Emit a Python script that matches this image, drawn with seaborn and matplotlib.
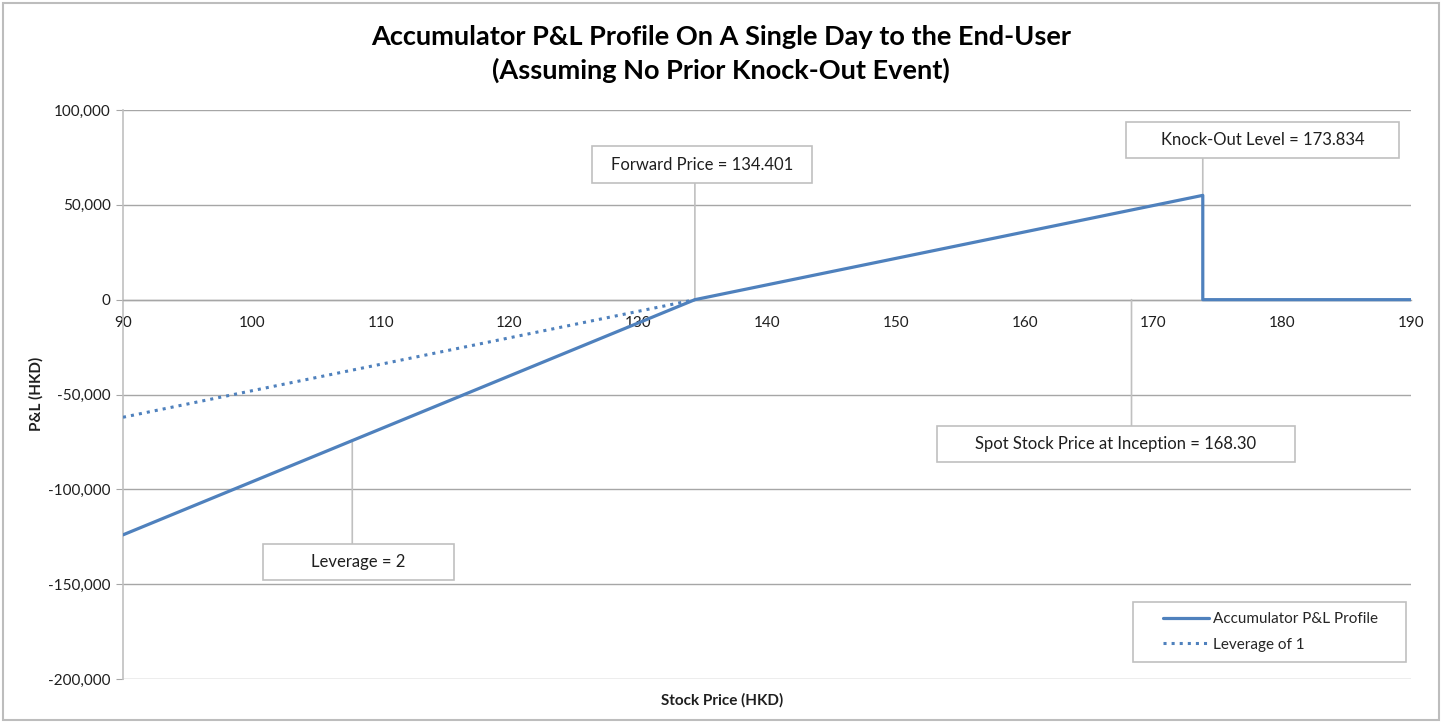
"""
Accumulator P&L profile on a single day, Excel-style chart with callout boxes.
"""

import matplotlib.pyplot as plt
import pandas as pd
import seaborn as sns
from matplotlib.patches import Rectangle
from matplotlib.ticker import FuncFormatter

# --- Data ---
accum_price = [90, 134.401, 173.834, 173.834, 190]
accum_pnl = [-124000, 0, 55000, 0, 0]

lev1_price = [90, 134.401]
lev1_pnl = [-62000, 0]

x_ticks = [90, 100, 110, 120, 130, 140, 150, 160, 170, 180, 190]
y_ticks = [-200000, -150000, -100000, -50000, 0, 50000, 100000]

# callouts: text, anchor on chart (x, y), box in image pixels (x0, top, x1, bottom), leader edge
callouts = [
    ("Forward Price = 134.401", (134.401, 0), (592, 146, 812, 183), "bottom"),
    ("Knock-Out Level = 173.834", (173.834, 55000), (1126, 122, 1399, 158), "bottom"),
    ("Spot Stock Price at Inception = 168.30", (168.30, 0), (937, 426, 1295, 462), "top"),
    ("Leverage = 2", (107.8, -74000), (263, 544, 454, 580), "top"),
]

BLUE = "#4F81BD"
GRID = "#A6A6A6"
LIGHT = "#C0C0C0"
TEXT = "#1F1F1F"
W, H = 1442, 723


def fig_box(x0, top, x1, bottom, **kw):
    """Rectangle given in image pixel coordinates (origin top-left)."""
    return Rectangle((x0 / W, (H - bottom) / H), (x1 - x0) / W, (bottom - top) / H,
                     transform=fig.transFigure, **kw)


sns.set_style("white")
plt.rcParams["font.family"] = ["Lato", "DejaVu Sans"]

fig = plt.figure(figsize=(W / 100, H / 100), dpi=100)
ax = fig.add_axes([123 / W, (H - 679) / H, (1411 - 123) / W, (679 - 110) / H])

df_acc = pd.DataFrame({"price": accum_price, "pnl": accum_pnl})
df_lev = pd.DataFrame({"price": lev1_price, "pnl": lev1_pnl})

sns.lineplot(data=df_acc, x="price", y="pnl", ax=ax, color=BLUE, lw=2.3,
             sort=False, estimator=None, label="Accumulator P&L Profile", zorder=4)
sns.lineplot(data=df_lev, x="price", y="pnl", ax=ax, color=BLUE, lw=2.2,
             linestyle=":", sort=False, estimator=None, label="Leverage of 1", zorder=4)

ax.set_xlim(90, 190)
ax.set_ylim(-200000, 100000)
ax.set_xticks(x_ticks)
ax.set_yticks(y_ticks)
ax.yaxis.set_major_formatter(FuncFormatter(lambda v, _: f"{v:,.0f}"))
ax.set_xlabel("")
ax.set_ylabel("")

ax.grid(axis="y", color=GRID, lw=1)
ax.grid(axis="x", visible=False)
ax.set_axisbelow(True)

for side in ["top", "right"]:
    ax.spines[side].set_visible(False)
ax.spines["left"].set_color(LIGHT)
ax.spines["left"].set_linewidth(1.2)
ax.spines["bottom"].set_position(("data", 0))
ax.spines["bottom"].set_color(GRID)
ax.spines["bottom"].set_linewidth(1)

ax.tick_params(axis="x", direction="out", length=4, color=GRID, labelsize=11,
               labelcolor=TEXT, pad=8)
ax.tick_params(axis="y", direction="out", length=5, color=GRID, labelsize=11,
               labelcolor=TEXT, pad=4, left=True)

# legend: frame drawn separately to match the Excel box
ax.add_patch(fig_box(1133, 602, 1406, 662, facecolor="white", edgecolor=LIGHT,
                     lw=1.2, zorder=5, clip_on=False))
leg = ax.legend(loc="center left", bbox_to_anchor=((1163 - 123) / 1288, (679 - 632) / 569),
                fontsize=11, frameon=False, handlelength=3.0, borderpad=0,
                borderaxespad=0, labelspacing=0.75, handletextpad=0.25)
leg.set_zorder(8)

# callout boxes with leader lines
for text, (ax_x, ax_y), (x0, top, x1, bottom), edge in callouts:
    fig.patches.append(fig_box(x0, top, x1, bottom, facecolor="white",
                               edgecolor=LIGHT, lw=1.2, zorder=6))
    fig.text((x0 + x1) / 2 / W, (H - (top + bottom) / 2) / H, text, ha="center",
             va="center", fontsize=12, color=TEXT, zorder=7)
    edge_y = bottom if edge == "bottom" else top
    ax.annotate("", xy=(ax_x, ax_y), xytext=(ax_x, H - edge_y),
                textcoords=("data", "figure pixels"),
                arrowprops=dict(arrowstyle="-", color=LIGHT, lw=1.2,
                                shrinkA=0, shrinkB=0), zorder=3)

fig.text(0.5, (H - 54) / H,
         "Accumulator P&L Profile On A Single Day to the End-User\n"
         "(Assuming No Prior Knock-Out Event)",
         ha="center", va="center", fontsize=19.5, fontweight="bold",
         linespacing=1.4, color="black")
fig.text(722 / W, (H - 700) / H, "Stock Price (HKD)", ha="center", va="center",
         fontsize=11, fontweight="bold", color=TEXT)
fig.text(36 / W, (H - 394) / H, "P&L (HKD)", ha="center", va="center",
         rotation=90, fontsize=11, fontweight="bold", color=TEXT)

# chart area border
fig.patches.append(Rectangle((3 / W, 3 / H), (W - 6) / W, (H - 6) / H,
                             transform=fig.transFigure, fill=False,
                             edgecolor="#BDBDBD", lw=1.5))

fig.savefig("out.png", dpi=100)
